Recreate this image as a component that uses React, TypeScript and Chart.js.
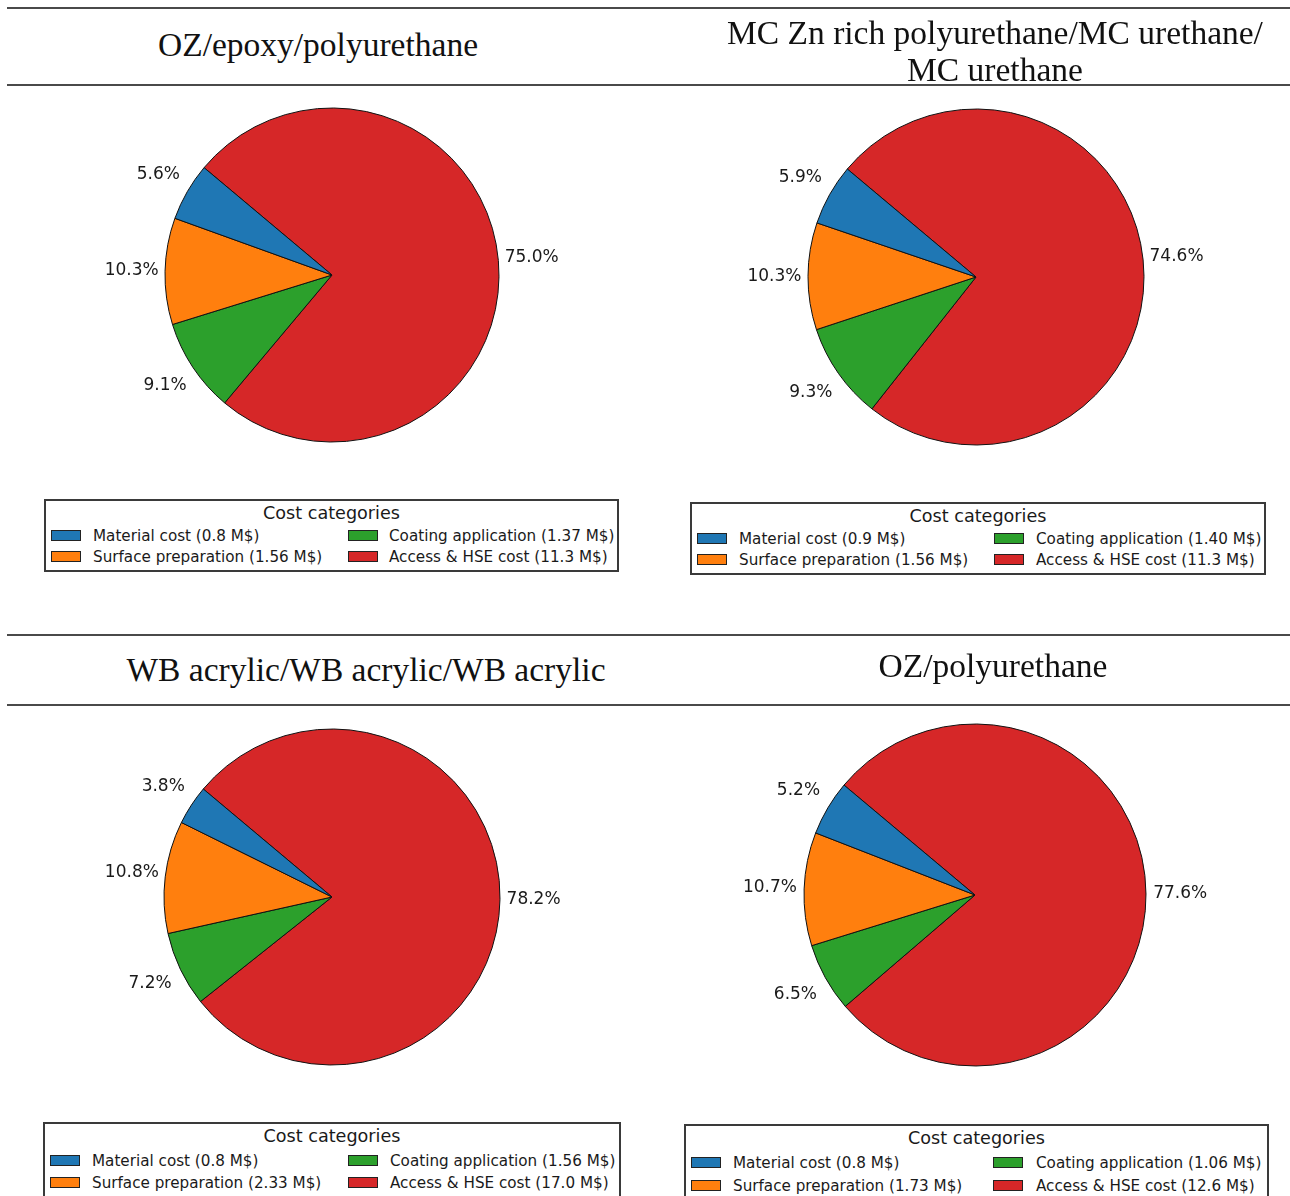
import React, { useEffect, useRef } from "react";
import { Chart, registerables } from "chart.js";

Chart.register(...registerables);

// ---------------- data ----------------
const categories = [
  "Material cost",
  "Surface preparation",
  "Coating application",
  "Access & HSE cost",
];
const sliceColors = ["#1f77b4", "#ff7f0e", "#2ca02c", "#d62728"];

const titleOzEpoxyPu = ["OZ/epoxy/polyurethane"];
const titleMcZn = ["MC Zn rich polyurethane/MC urethane/", "MC urethane"];
const titleWb = ["WB acrylic/WB acrylic/WB acrylic"];
const titleOzPu = ["OZ/polyurethane"];

// percent shares: material, surface prep, coating application, access & HSE
const pctOzEpoxyPu = [5.6, 10.3, 9.1, 75.0];
const pctMcZn = [5.9, 10.3, 9.3, 74.6];
const pctWb = [3.8, 10.8, 7.2, 78.2];
const pctOzPu = [5.2, 10.7, 6.5, 77.6];

// legend costs in M$
const costOzEpoxyPu = ["0.8", "1.56", "1.37", "11.3"];
const costMcZn = ["0.9", "1.56", "1.40", "11.3"];
const costWb = ["0.8", "2.33", "1.56", "17.0"];
const costOzPu = ["0.8", "1.73", "1.06", "12.6"];

const legendTitle = "Cost categories";

// ---------------- layout (styles only) ----------------
const panels = [
  {
    title: titleOzEpoxyPu, pct: pctOzEpoxyPu, cost: costOzEpoxyPu,
    titleX: 318, titleBase: [56],
    cx: 332, cy: 275, r: 167,
    box: { x: 44, y: 499, w: 575, h: 73 }, col2: 304, col2Text: 345, rows: [37, 58],
  },
  {
    title: titleMcZn, pct: pctMcZn, cost: costMcZn,
    titleX: 995, titleBase: [44, 81],
    cx: 976, cy: 277, r: 168,
    box: { x: 690, y: 502, w: 576, h: 73 }, col2: 304, col2Text: 346, rows: [37, 58],
  },
  {
    title: titleWb, pct: pctWb, cost: costWb,
    titleX: 366, titleBase: [681],
    cx: 332, cy: 897, r: 168,
    box: { x: 43, y: 1122, w: 578, h: 90 }, col2: 305, col2Text: 347, rows: [39, 61],
  },
  {
    title: titleOzPu, pct: pctOzPu, cost: costOzPu,
    titleX: 993, titleBase: [677],
    cx: 975, cy: 895, r: 171,
    box: { x: 684, y: 1124, w: 585, h: 90 }, col2: 309, col2Text: 352, rows: [39, 62],
  },
];

const ruleLines = [8, 85, 635, 705];

const pctLabelPlugin = {
  id: "pctLabels",
  afterDatasetsDraw(chart: any) {
    const ctx = chart.ctx;
    const meta = chart.getDatasetMeta(0);
    const data = chart.data.datasets[0].data;
    ctx.save();
    ctx.font = "17px 'DejaVu Sans'";
    ctx.fillStyle = "#1a1a1a";
    ctx.textAlign = "center";
    ctx.textBaseline = "middle";
    meta.data.forEach((arc: any, i: number) => {
      const p = arc.getProps(["x", "y", "startAngle", "endAngle", "outerRadius"], true);
      const mid = (p.startAngle + p.endAngle) / 2;
      const d = p.outerRadius * 1.2;
      ctx.fillText(Number(data[i]).toFixed(1) + "%", p.x + Math.cos(mid) * d, p.y + Math.sin(mid) * d);
    });
    ctx.restore();
  },
};

const CANVAS = 540;

function Pie({ pct, cx, cy, r }: { pct: number[]; cx: number; cy: number; r: number }) {
  const ref = useRef<HTMLCanvasElement | null>(null);
  useEffect(() => {
    if (!ref.current) return;
    // matplotlib draws counter-clockwise from 140 deg; Chart.js draws clockwise,
    // so reverse the order and start at the same ray.
    const order = [3, 2, 1, 0];
    const chart = new Chart(ref.current, {
      type: "pie",
      data: {
        labels: order.map((i) => categories[i]),
        datasets: [
          {
            data: order.map((i) => pct[i]),
            backgroundColor: order.map((i) => sliceColors[i]),
            borderColor: "#111",
            borderWidth: 1,
          },
        ],
      },
      options: {
        responsive: false,
        animation: false,
        rotation: 310,
        radius: r,
        layout: { padding: 0 },
        plugins: { legend: { display: false }, tooltip: { enabled: false } },
      } as any,
      plugins: [pctLabelPlugin],
    });
    return () => chart.destroy();
  }, [pct, r]);
  return (
    <canvas
      ref={ref}
      width={CANVAS}
      height={CANVAS}
      style={{ position: "absolute", left: cx - CANVAS / 2, top: cy - CANVAS / 2, width: CANVAS, height: CANVAS }}
    />
  );
}

function Legend({ p }: { p: (typeof panels)[number] }) {
  const { box } = p;
  const items = [
    { i: 0, col: 0, row: 0 },
    { i: 1, col: 0, row: 1 },
    { i: 2, col: 1, row: 0 },
    { i: 3, col: 1, row: 1 },
  ];
  const rowY = p.rows;
  return (
    <div
      style={{
        position: "absolute",
        left: box.x,
        top: box.y,
        width: box.w,
        height: box.h,
        boxSizing: "border-box",
        border: "2px solid #3a3a3a",
        background: "#fff",
        fontFamily: "'DejaVu Sans'",
        color: "#1a1a1a",
      }}
    >
      <div
        style={{
          position: "absolute",
          left: 0,
          width: box.w - 4,
          top: 14 - 2 - 12,
          height: 24,
          lineHeight: "24px",
          textAlign: "center",
          fontSize: 17.6,
          whiteSpace: "nowrap",
        }}
      >
        {legendTitle}
      </div>
      {items.map(({ i, col, row }) => {
        const px = col === 0 ? 7 : p.col2;
        const tx = col === 0 ? 49 : p.col2Text;
        const y = rowY[row] - 2;
        return (
          <React.Fragment key={i}>
            <div
              style={{
                position: "absolute",
                left: px - 2,
                top: y - 6,
                width: 30,
                height: 11,
                boxSizing: "border-box",
                border: "1px solid #222",
                background: sliceColors[i],
              }}
            />
            <div
              style={{
                position: "absolute",
                left: tx - 2,
                top: y - 10,
                height: 20,
                lineHeight: "20px",
                fontSize: 15.2,
                whiteSpace: "nowrap",
              }}
            >
              {`${categories[i]} (${p.cost[i]} M$)`}
            </div>
          </React.Fragment>
        );
      })}
    </div>
  );
}

export default function App() {
  return (
    <div
      style={{
        position: "absolute",
        left: 0,
        top: 0,
        width: 1290,
        height: 1196,
        overflow: "hidden",
        background: "#fff",
      }}
    >
      {ruleLines.map((y) => (
        <div
          key={y}
          style={{ position: "absolute", left: 7, top: y - 1, width: 1283, height: 2, background: "#4a4a4a" }}
        />
      ))}
      {panels.map((p, k) => (
        <React.Fragment key={k}>
          {p.title.map((t, j) => (
            <div
              key={j}
              style={{
                position: "absolute",
                left: p.titleX - 400,
                width: 800,
                top: p.titleBase[j] - 31,
                height: 40,
                lineHeight: "40px",
                textAlign: "center",
                fontFamily: "'Liberation Serif'",
                fontSize: 33.5,
                color: "#111",
                whiteSpace: "nowrap",
              }}
            >
              {t}
            </div>
          ))}
          <Pie pct={p.pct} cx={p.cx} cy={p.cy} r={p.r} />
          <Legend p={p} />
        </React.Fragment>
      ))}
    </div>
  );
}
